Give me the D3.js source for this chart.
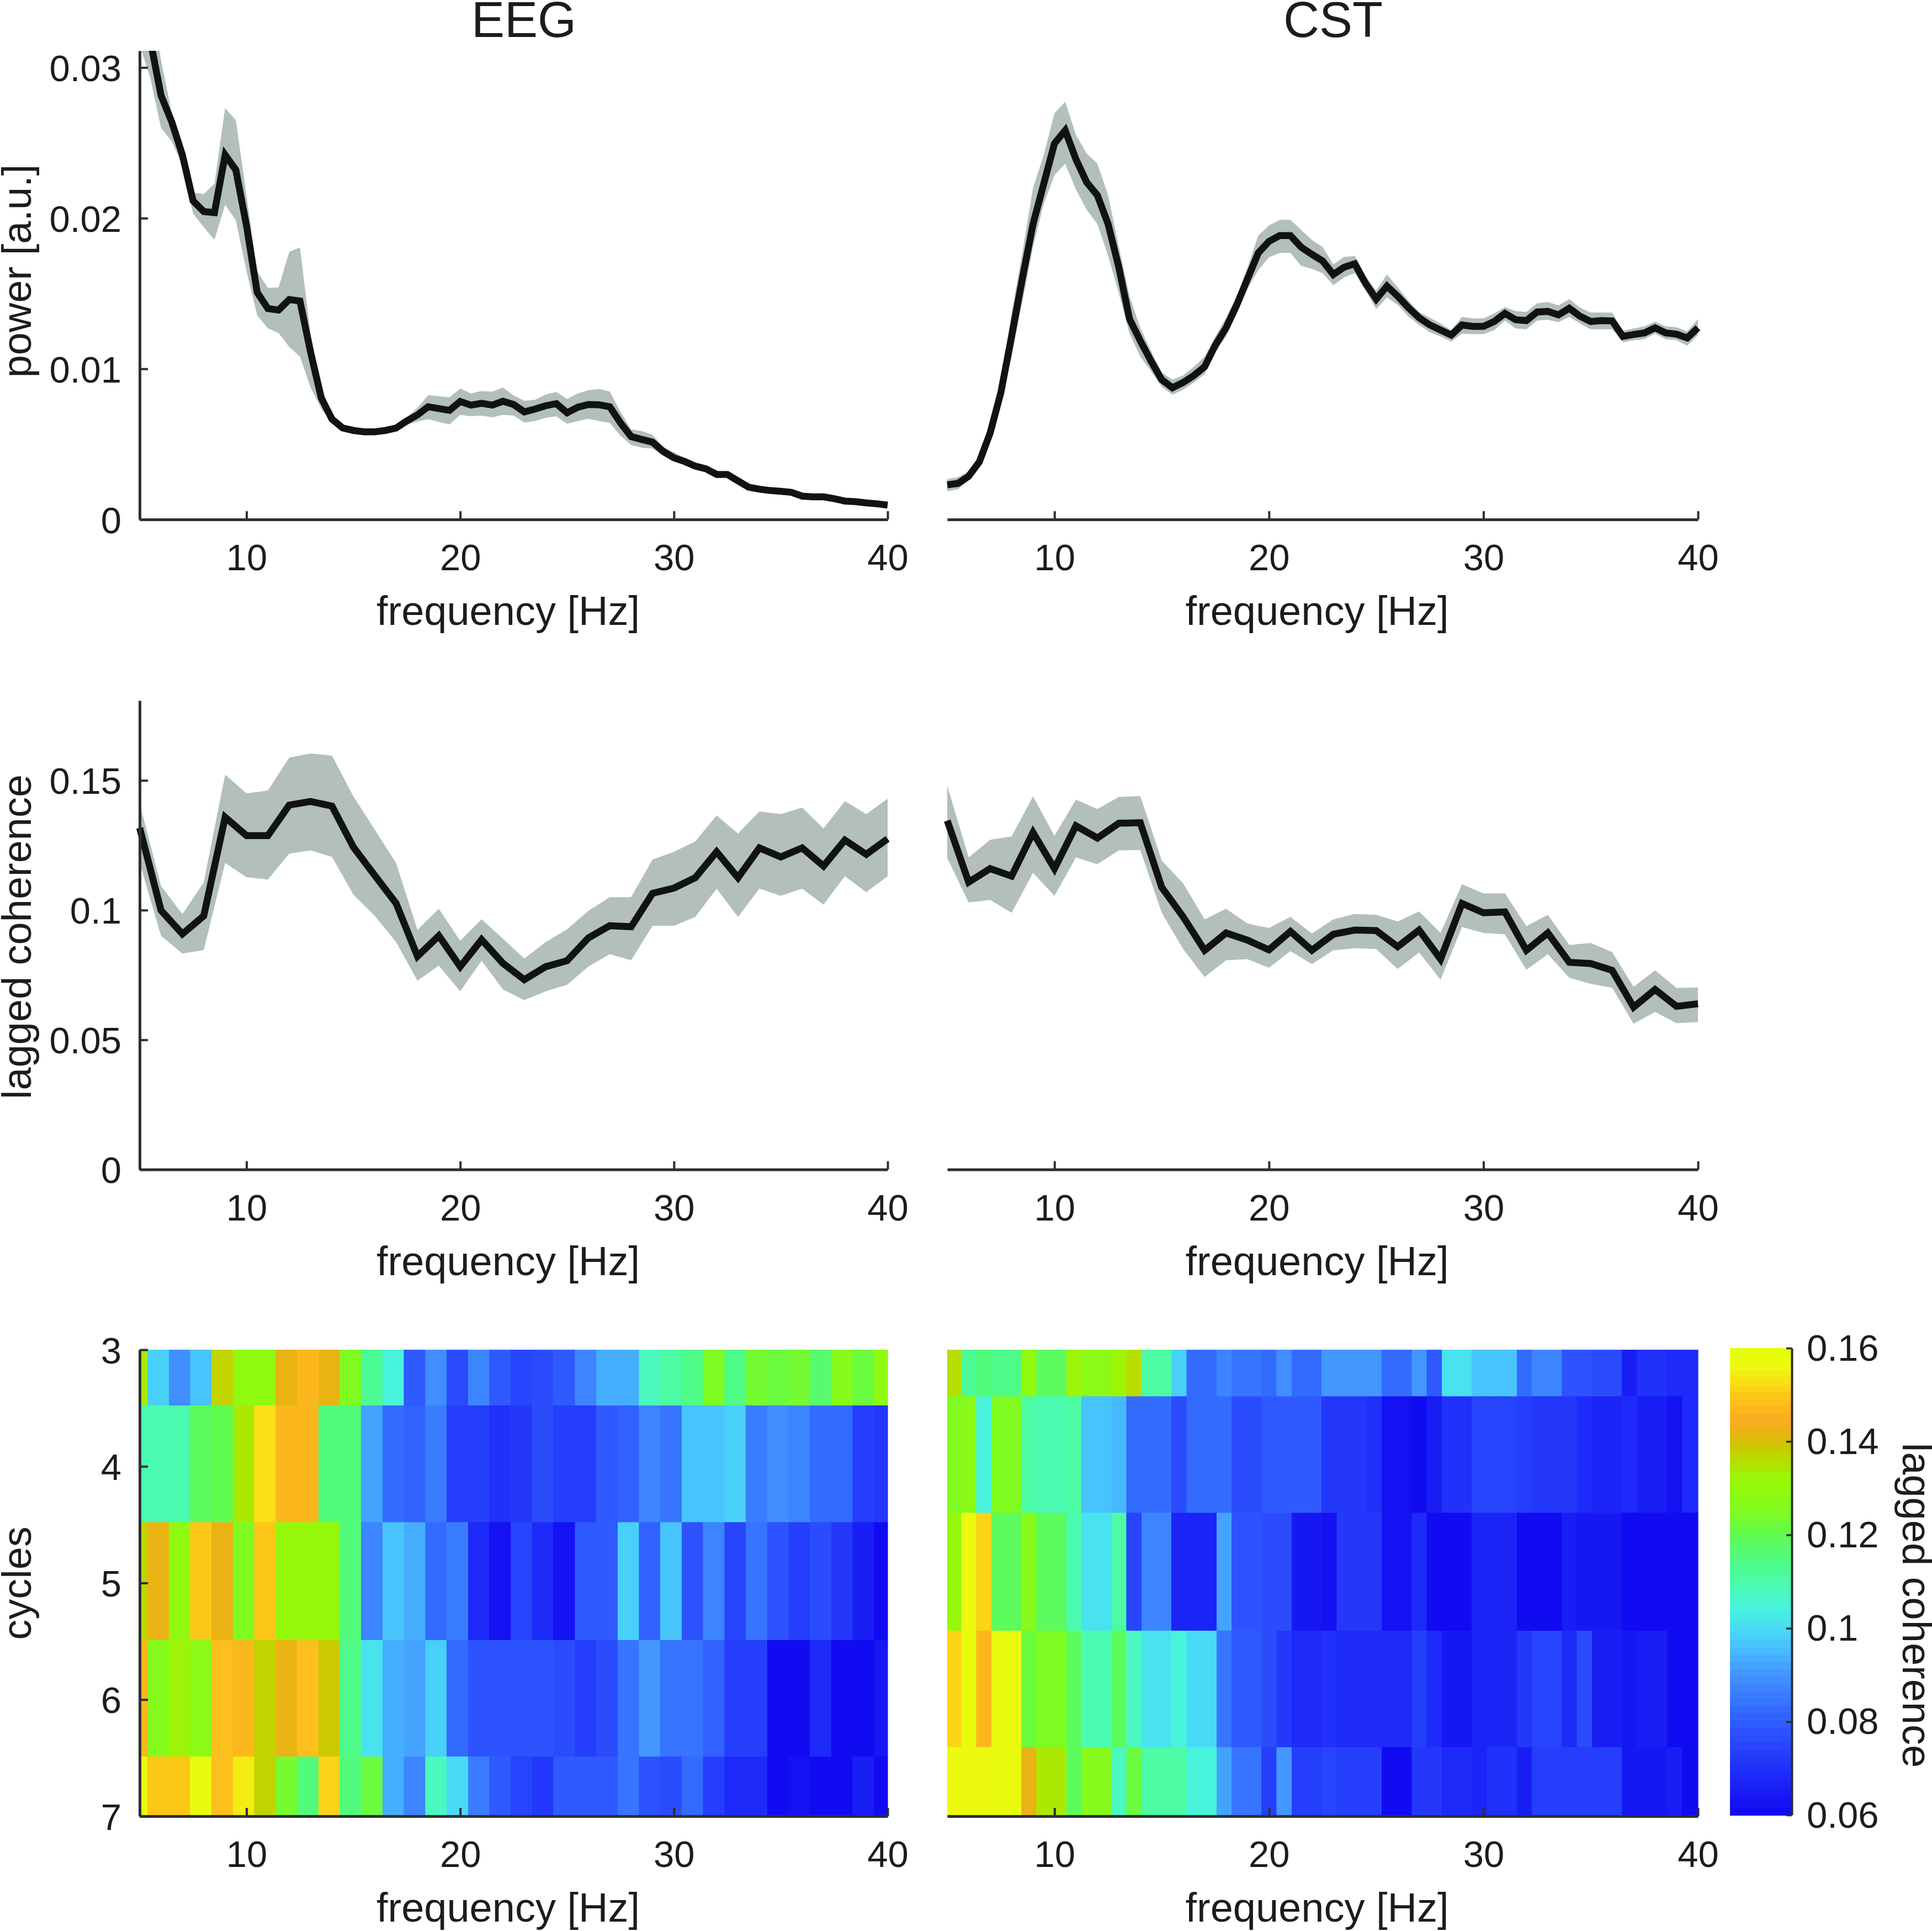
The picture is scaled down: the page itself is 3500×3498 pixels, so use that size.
<!DOCTYPE html>
<html><head><meta charset="utf-8">
<script src="https://cdn.jsdelivr.net/npm/d3@7"></script>
<style>html,body{margin:0;padding:0;background:#fff}svg{display:block}text{font-family:"Liberation Sans",Arial,sans-serif;fill:#1b1d1d}</style>
</head><body><svg id="c" width="3500" height="3498"></svg>
<script>
const titles=["EEG","CST"];
const xTicks=[10,20,30,40];
const powerTicks=[0,0.01,0.02,0.03];
const cohTicks=[0,0.05,0.1,0.15];
const cycleTicks=[3,4,5,6,7];
const cbarTicks=[0.06,0.08,0.1,0.12,0.14,0.16];
const halfHz=d3.range(71).map(i=>5+i*0.5);
const oneHz=d3.range(36).map(i=>5+i);

const eegPowerMean=[.0345,.0318,.02815,.0264,.0242,.02115,.02044,.02037,.0242,.0232,
.0195,.01507,.0140,.0139,.0146,.0145,.0111,.00806,.00666,.00607,
.00591,.00582,.00582,.00591,.00607,.00654,.00694,.00748,.00736,.00724,
.00783,.00759,.00771,.00759,.00785,.00763,.00714,.00733,.00755,.00769,
.00708,.00745,.00763,.00761,.00748,.00641,.0055,.00531,.00513,.00452,
.00409,.00385,.00354,.00336,.00299,.00299,.00256,.00214,.00201,.00192,
.00187,.0018,.00155,.0015,.0015,.00138,.00122,.00118,.0011,.00104,.00095];
const eegPowerUp=[.0375,.035,.0305,.027,.0245,.0217,.0216,.0223,.0273,.0265,
.0215,.01647,.01537,.0154,.01776,.01806,.01227,.00876,.00689,.00619,
.006,.0059,.0059,.0061,.0063,.0068,.0074,.00825,.00818,.00811,
.00869,.00836,.00853,.00848,.00876,.00824,.00788,.00794,.0083,.00846,
.008,.00836,.00858,.00867,.00849,.00714,.00598,.00586,.00562,.00482,
.00446,.00409,.00372,.00354,.00317,.00317,.00262,.00219,.00206,.00197,
.00192,.00185,.0016,.00155,.00155,.00143,.00127,.00123,.00115,.00109,.001];
const eegPowerLo=[.0315,.0293,.026,.0251,.0235,.0203,.0194,.01857,.0209,.01986,
.01647,.01355,.01269,.01238,.01145,.01082,.00876,.00736,.00643,.00596,
.00582,.00573,.00573,.00578,.00591,.00627,.0065,.00666,.00647,.00631,
.00694,.00685,.00689,.00678,.00694,.0069,.00643,.00653,.00675,.00684,
.00635,.00653,.00668,.00653,.00641,.00556,.00495,.00476,.0047,.00421,
.00385,.0036,.00336,.00317,.00281,.00281,.0025,.00209,.00196,.00187,
.00182,.00175,.0015,.00145,.00145,.00133,.00117,.00113,.00105,.00099,.0009];

const cstPowerMean=[.0023,.00239,.00287,.00383,.00574,.00842,.01215,.01597,.01961,.02228,
.02496,.02582,.02391,.02238,.02152,.01961,.01674,.0133,.01186,.01052,
.00928,.00874,.00909,.00956,.01014,.01157,.01272,.01425,.01597,.01769,
.01846,.01884,.01884,.01808,.0176,.01716,.01626,.01674,.01697,.01568,
.01463,.01549,.01482,.01406,.01339,.01291,.01257,.01224,.01291,.01282,
.01282,.01314,.01368,.01326,.0132,.01377,.01381,.01358,.01402,.01349,
.01314,.0132,.01318,.01215,.01228,.01238,.01272,.01238,.0123,.01205,.01272];
const cstPowerUp=[.00268,.0028,.0032,.0041,.0060,.0091,.0137,.0177,.022,.0242,
.02697,.02773,.02553,.02429,.02362,.02152,.0181,.01482,.01272,.01119,
.00976,.00928,.00956,.01014,.01081,.01215,.01339,.01482,.01674,.01884,
.01951,.01989,.01989,.01922,.01855,.01808,.01693,.01742,.0175,.01616,
.0152,.01626,.0154,.01454,.01377,.01339,.01301,.01257,.01345,.01335,
.01335,.01368,.0141,.01383,.01377,.01435,.01444,.01421,.01463,.01406,
.01373,.01373,.01373,.01253,.01268,.01282,.01314,.01282,.01276,.01249,.01329];
const cstPowerLo=[.00186,.00201,.00258,.00354,.00536,.00775,.01081,.01444,.01808,.02095,
.02286,.02362,.0219,.02056,.01961,.0175,.01502,.01234,.01081,.00985,
.0088,.00828,.00861,.00909,.00966,.01109,.01215,.01368,.0153,.01655,
.01741,.01769,.01769,.01683,.01664,.01635,.01555,.01607,.01635,.0152,
.01396,.01473,.01425,.01348,.01291,.01243,.01215,.0118,.01234,.0123,
.0123,.01257,.0132,.01268,.01262,.0132,.01326,.0131,.01345,.01301,
.01262,.01262,.01262,.01176,.0119,.01196,.01234,.01196,.0119,.01153,.01224];

const eegCohMean=[.1317,.0999,.0908,.0978,.1358,.1287,.1287,.1405,.1419,.1401,.1243,.1134,.1026,.0822,.0901,.0782,.0886,.0795,.0732,.0782,.0805,.0893,.094,.0936,.1065,.1085,.1125,.1225,.1125,.1240,.1205,.1240,.1170,.1270,.1215,.1275];
const eegCohUp=[.1412,.1093,.0985,.1107,.1523,.145,.1461,.1588,.1604,.1595,.1439,.131,.1182,.0924,.1005,.0881,.0965,.089,.0813,.0877,.0926,.0998,.105,.105,.1195,.1225,.1265,.1365,.1295,.1380,.1370,.1395,.1315,.1420,.1370,.1430];
const eegCohLo=[.1182,.0901,.0833,.0846,.1182,.1127,.1118,.1218,.123,.1205,.106,.0978,.0877,.0728,.0786,.0687,.0805,.0694,.0653,.0687,.0712,.0783,.083,.0807,.094,.094,.0974,.1083,.0974,.1083,.1055,.1083,.1021,.1131,.1069,.1131];

const cstCohMean=[.1345,.1108,.116,.1131,.1299,.116,.1325,.1278,.1335,.1337,.1088,.0974,.0845,.0912,.0884,.0847,.0918,.0845,.0907,.0923,.0921,.0859,.0923,.0811,.1026,.099,.0993,.0845,.0912,.0799,.0794,.0768,.0626,.0694,.0629,.0639];
const cstCohUp=[.1479,.1203,.1271,.1284,.1438,.1286,.1426,.139,.1436,.144,.1191,.1103,.0964,.1005,.0948,.0931,.0974,.091,.0964,.0985,.0982,.0956,.0995,.0912,.11,.1064,.1065,.0938,.0982,.0866,.0873,.0838,.0704,.0768,.07,.0702];
const cstCohLo=[.1201,.1029,.1039,.099,.1144,.1055,.1203,.1177,.123,.1232,.099,.085,.0742,.0807,.0811,.0778,.0842,.0792,.0845,.0853,.085,.0773,.0837,.0732,.0935,.0912,.0907,.077,.083,.0739,.0716,.0701,.0562,.0608,.0564,.0569];

const eegHeat3=[.134,.099,.089,.097,.137,.130,.130,.142,.146,.142,.125,.113,.104,.080,.089,.076,.088,.079,.075,.077,.080,.087,.094,.094,.108,.110,.114,.125,.114,.124,.121,.123,.117,.127,.121,.129];
const eegHeat4=[.109,.109,.109,.119,.120,.134,.153,.146,.146,.116,.116,.092,.082,.081,.085,.073,.073,.070,.072,.076,.074,.074,.079,.081,.088,.084,.096,.096,.099,.086,.089,.087,.083,.083,.074,.072];
const eegHeat5=[.137,.142,.129,.150,.142,.125,.150,.131,.131,.131,.116,.087,.097,.093,.083,.086,.069,.063,.075,.068,.062,.079,.079,.099,.081,.096,.078,.087,.075,.084,.078,.074,.077,.071,.065,.060];
const eegHeat6=[.146,.126,.132,.128,.149,.147,.137,.142,.148,.139,.114,.101,.093,.092,.098,.083,.078,.078,.078,.078,.077,.074,.076,.084,.090,.084,.084,.081,.074,.074,.061,.061,.069,.061,.061,.064];
const eegHeat7=[.156,.150,.150,.157,.149,.155,.137,.124,.116,.151,.116,.121,.094,.087,.108,.100,.086,.079,.075,.071,.080,.079,.079,.084,.078,.076,.082,.074,.068,.068,.061,.062,.060,.060,.066,.061];

const cstHeat3=[.135,.112,.116,.114,.114,.130,.118,.118,.132,.128,.128,.133,.135,.111,.111,.098,.083,.083,.088,.084,.084,.083,.089,.082,.082,.090,.091,.091,.091,.083,.083,.091,.080,.102,.102,.097,.097,.097,.083,.088,.088,.078,.078,.076,.076,.066,.070,.070,.068,.068];
const cstHeat4=[.125,.128,.104,.125,.125,.111,.109,.109,.110,.097,.097,.095,.083,.082,.082,.076,.082,.082,.082,.077,.077,.080,.080,.080,.080,.072,.072,.072,.070,.062,.062,.061,.065,.070,.070,.075,.075,.075,.073,.071,.071,.071,.069,.067,.067,.069,.066,.066,.062,.068];
const cstHeat5=[.131,.156,.151,.118,.118,.127,.119,.119,.109,.101,.101,.111,.075,.088,.088,.067,.067,.067,.092,.078,.078,.076,.076,.064,.064,.062,.072,.072,.072,.063,.063,.069,.061,.061,.061,.067,.067,.067,.060,.060,.060,.066,.064,.064,.064,.061,.061,.061,.061,.061];
const cstHeat6=[.152,.157,.147,.158,.158,.122,.125,.125,.118,.109,.109,.118,.108,.102,.102,.104,.100,.100,.084,.080,.080,.076,.071,.069,.069,.070,.068,.068,.068,.068,.068,.074,.069,.064,.064,.067,.067,.067,.072,.075,.075,.069,.077,.066,.066,.064,.066,.066,.061,.061];
const cstHeat7=[.156,.156,.156,.157,.157,.142,.134,.134,.119,.127,.127,.107,.122,.110,.110,.110,.105,.105,.092,.084,.084,.073,.090,.074,.074,.075,.073,.073,.073,.061,.061,.071,.071,.069,.069,.067,.070,.070,.066,.073,.073,.073,.073,.074,.074,.064,.064,.064,.066,.061];
const eegHeat=[eegHeat3,eegHeat4,eegHeat5,eegHeat6,eegHeat7];
const cstHeat=[cstHeat3,cstHeat4,cstHeat5,cstHeat6,cstHeat7];
const eegRowEdges=[3,3.48,4.48,5.49,6.49,7];
const cstRowEdges=[3,3.40,4.40,5.41,6.41,7];
const colorStops=[.06,.07,.08,.09,.095,.10,.105,.11,.115,.12,.125,.132,.136,.139,.1415,.145,.15,.153,.156,.16];
const colorValues=["#1008f0","#2030fa","#2f5cff","#4294ff","#48b8ff","#48dcf6","#48f5d8","#4bfbaa","#50fb80","#60fb50","#80fb20","#98f808","#b8dd00","#ccc800","#e6b412","#fbae20","#fdc818","#fae014","#ebfa10","#e6ff0a"];

const svg=d3.select("#c");
const FS_T=90,FS_L=74,FS_K=67,INK="#2b2f2f",BAND="#b2bfbc",LINE="#111313";
const cols=[[253,1608],[1716,3076]];
const rows=[{b:941,t:92,dom:[0,0.03111],ticks:powerTicks,label:"power [a.u.]"},
            {b:2118.6,t:1269,dom:[0,0.1808],ticks:cohTicks,label:"lagged coherence"}];
const heat={b:3290,t:2445};
const color0=d3.scaleLinear().domain(colorStops).range(colorValues).interpolate(d3.interpolateRgb);
const nLevels=64;
const color=v=>{const q=Math.max(0,Math.min(nLevels-1,Math.floor((v-.06)/.1*nLevels)));return color0(.06+(q+.5)/nLevels*.1);};

function xAxis(g,x,yb){
  const ax=d3.axisBottom(x).tickValues(xTicks).tickSizeInner(-15).tickSizeOuter(0).tickFormat(d=>String(d));
  const a=g.append("g").attr("transform",`translate(0,${yb})`).call(ax);
  a.select(".domain").attr("stroke",INK).attr("stroke-width",5);
  a.selectAll(".tick line").attr("stroke",INK).attr("stroke-width",4);
  a.selectAll(".tick text").attr("y",92).attr("dy",0).attr("font-size",FS_K).attr("font-family",null).attr("fill",null);
  g.append("text").attr("x",(x.range()[0]+x.range()[1])/2-10).attr("y",yb+191).attr("text-anchor","middle").attr("font-size",FS_L).text("frequency [Hz]");
}
function yAxis(g,y,ticks,label,cy){
  const ax=d3.axisLeft(y).tickValues(ticks).tickSizeInner(-15).tickSizeOuter(0).tickFormat(d=>String(d));
  const a=g.append("g").attr("transform","translate(253,0)").call(ax);
  a.select(".domain").attr("stroke",INK).attr("stroke-width",5);
  a.selectAll(".tick line").attr("stroke",INK).attr("stroke-width",4);
  a.selectAll(".tick text").attr("x",-33).attr("dy",0).attr("y",24).attr("font-size",FS_K).attr("font-family",null).attr("fill",null);
  g.append("text").attr("transform",`translate(56,${cy}) rotate(-90)`).attr("text-anchor","middle").attr("font-size",FS_L).text(label);
}
function linePanel(cIdx,rIdx,xs,mean,up,lo){
  const R=rows[rIdx];
  const g=svg.append("g");
  const x=d3.scaleLinear().domain([5,40]).range(cols[cIdx]);
  const y=d3.scaleLinear().domain(R.dom).range([R.b,R.t]);
  const id=`clip${cIdx}${rIdx}`;
  svg.append("clipPath").attr("id",id).append("rect").attr("x",x(5)-8).attr("y",y.range()[1]).attr("width",x(40)-x(5)+16).attr("height",R.b-R.t);
  const p=g.append("g").attr("clip-path",`url(#${id})`);
  const area=d3.area().x((d,i)=>x(xs[i])).y0((d,i)=>y(lo[i])).y1((d,i)=>y(d));
  p.append("path").attr("d",area(up)).attr("fill",BAND);
  const line=d3.line().x((d,i)=>x(xs[i])).y(d=>y(d));
  p.append("path").attr("d",line(mean)).attr("fill","none").attr("stroke",LINE).attr("stroke-width",12.5).attr("stroke-linejoin","miter");
  xAxis(g,x,R.b);
  if(cIdx===0) yAxis(g,y,R.ticks,R.label,rIdx===0?491:1697);
}
linePanel(0,0,halfHz,eegPowerMean,eegPowerUp,eegPowerLo);
linePanel(1,0,halfHz,cstPowerMean,cstPowerUp,cstPowerLo);
linePanel(0,1,oneHz,eegCohMean,eegCohUp,eegCohLo);
linePanel(1,1,oneHz,cstCohMean,cstCohUp,cstCohLo);

function heatPanel(cIdx,data,rowEdges,edgeOf){
  const g=svg.append("g");
  const x=d3.scaleLinear().domain([5,40]).range(cols[cIdx]);
  const y=d3.scaleLinear().domain([3,7]).range([heat.t,heat.b]);
  data.forEach((row,r)=>{
    g.append("g").selectAll("rect").data(row).join("rect")
     .attr("x",(d,i)=>x(edgeOf(i))).attr("width",(d,i)=>x(edgeOf(i+1))-x(edgeOf(i)))
     .attr("y",y(rowEdges[r])).attr("height",y(rowEdges[r+1])-y(rowEdges[r]))
     .attr("fill",d=>color(d)).attr("stroke",d=>color(d)).attr("stroke-width",.6).attr("shape-rendering","crispEdges");
  });
  xAxis(g,x,heat.b);
  if(cIdx===0) yAxis(g,y,cycleTicks,"cycles",2868);
}
heatPanel(0,eegHeat,eegRowEdges,i=>i===0?5:i>=36?40:4.37+i);
heatPanel(1,cstHeat,cstRowEdges,i=>i===0?5:i>=50?40:4.96+0.7*i);

const cb=svg.append("g");
const cy=d3.scaleLinear().domain([.06,.16]).range([3288,2442]);
const levels=d3.range(nLevels).map(q=>.06+q/nLevels*.1);
cb.selectAll("rect").data(levels).join("rect").attr("x",3134).attr("width",112)
  .attr("y",d=>cy(d+.1/nLevels)).attr("height",d=>cy(d)-cy(d+.1/nLevels)+.5)
  .attr("fill",d=>color(d+.05/nLevels)).attr("shape-rendering","crispEdges");
const cax=cb.append("g").attr("transform","translate(3246,0)").call(d3.axisRight(cy).tickValues(cbarTicks).tickSizeInner(-10).tickSizeOuter(0).tickFormat(d=>String(d)));
cax.select(".domain").attr("stroke",INK).attr("stroke-width",4);
cax.selectAll(".tick line").attr("stroke",INK).attr("stroke-width",3.5);
cax.selectAll(".tick text").attr("x",27).attr("dy",0).attr("y",22).attr("font-size",FS_K).attr("font-family",null).attr("fill",null);
cb.append("text").attr("transform","translate(3447,2908) rotate(90)").attr("text-anchor","middle").attr("font-size",FS_L).text("lagged coherence");

svg.selectAll(".ttl").data(titles).join("text").attr("class","ttl")
  .attr("x",(d,i)=>i===0?949:2415).attr("y",67).attr("text-anchor","middle").attr("font-size",FS_T).text(d=>d);
</script></body></html>
